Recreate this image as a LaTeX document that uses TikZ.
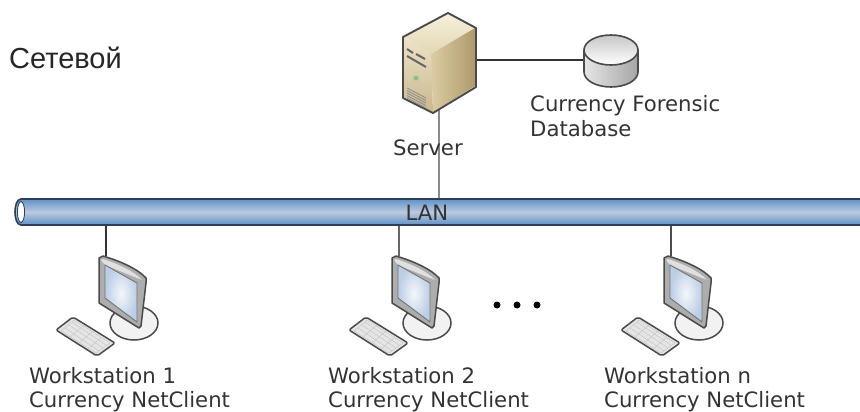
\documentclass[tikz,border=0pt]{standalone}
\usepackage{fontspec}
\setmainfont{DejaVu Sans}
\newfontfamily\arialfont{Liberation Sans}
\usetikzlibrary{calc}
\definecolor{txt}{HTML}{333333}
\definecolor{edgeDark}{HTML}{2A2A2A}
\definecolor{tubeA}{HTML}{5F92C8}
\definecolor{tubeB}{HTML}{BCC9DE}
\definecolor{tubeEdge}{HTML}{2B3F55}
\definecolor{srvTopA}{HTML}{F6F0DC}
\definecolor{srvTopB}{HTML}{E2D6B4}
\definecolor{srvFrontA}{HTML}{EDE3C8}
\definecolor{srvFrontB}{HTML}{C9B78E}
\definecolor{srvSideA}{HTML}{DCCCA4}
\definecolor{srvSideB}{HTML}{AE9A6C}
\definecolor{screenA}{HTML}{F4F7FB}
\definecolor{screenB}{HTML}{BCCDE6}
\tikzset{
  x=1pt,y=-1pt,
  lbl/.style={font=\fontsize{21.2}{24.5}\selectfont,text=txt,inner sep=0pt,align=left,anchor=west},
  link/.style={draw=black!80,line width=1.2pt},
  glink/.style={draw=black!45,line width=1.6pt},
  outl/.style={draw=edgeDark!85,line width=1.5pt,line join=round},
  pics/workstation/.style={code={
    % base
    \draw[outl,fill=black!5] (28,67) ellipse [x radius=24,y radius=17];
    % monitor
    \draw[outl,fill=black!32] (-7,2) -- (-3,0) .. controls (14,5) and (32,13) .. (40,22)
      -- (40,27) -- (35,70) -- (33,72) -- (-7,47) -- cycle;
    \fill[black!12] (-5,4) -- (-3,3) .. controls (12,8) and (28,15) .. (36,24) -- (-1,9) -- cycle;
    \shade[outer color=screenB,inner color=screenA] (-1,9) -- (31,27) -- (31,66) -- (-1,42) -- cycle;
    \draw[black!55,line width=.9pt] (-1,9) -- (31,27) -- (31,66) -- (-1,42) -- cycle;
    % keyboard
    \draw[outl,fill=black!10,rounded corners=2pt] (-50,74) -- (-33,61) -- (9,87) -- (-9,100) -- cycle;
    \begin{scope}[black!22,line width=.5pt]
      \draw (-45,75) -- (-32,64) -- (4,87) -- (-10,97) -- cycle;
      \draw (-41,72) -- (-7,95) (-37,69) -- (-3,92) (-34,66) -- (0,89);
      \draw (-36,81) -- (-22,69) (-27,87) -- (-13,75) (-18,93) -- (-4,81);
    \end{scope}
  }},
}
\begin{document}
\begin{tikzpicture}
\useasboundingbox (0,0) rectangle (860,412);
\fill[white] (0,0) rectangle (860,412);

\node[lbl,font=\arialfont\fontsize{29}{34}\selectfont,text=black!85] (title) at (9,58) {Сетевой};

% named anchors
\coordinate (srvR) at (476,60);
\coordinate (srvB) at (439,110);
\coordinate (dbL) at (584,60);
\coordinate (lanT) at (439,198);
\coordinate (lanB1) at (106,226);
\coordinate (lanB2) at (399,226);
\coordinate (lanB3) at (671,226);
\coordinate (ws1) at (106,256);
\coordinate (ws2) at (399,256);
\coordinate (ws3) at (671,256);

% connectors
\draw[glink] (srvB) -- (lanT);
\draw[link] (srvR) -- (dbL);
\draw[link] (lanB1) -- (ws1);
\draw[link,draw=black!60] (lanB2) -- (ws2);
\draw[link,draw=black!70] (lanB3) -- (ws3);

% server
\shade[top color=srvTopA,bottom color=srvTopB] (448,14) -- (404,37) -- (431,54) -- (475,28) -- cycle;
\shade[left color=srvSideA,right color=srvSideB] (431,54) -- (475,28) -- (475,86) -- (433,112) -- cycle;
\shade[top color=srvFrontA,bottom color=srvFrontB] (404,37) -- (431,54) -- (433,112) -- (404,97) -- cycle;
\draw[outl,line width=1.9pt] (448,13) -- (403,37) -- (403,98) -- (433,113) -- (476,87) -- (476,28) -- cycle;
\draw[black!60,line width=2pt] (407,49) -- (413,53) (416,54) -- (425,59);
\draw[black!60,line width=2pt] (407,56) -- (426,67);
\fill[green!45!black!45!white] (416,78) circle (2.6);
\foreach \d in {0,2.6,5,7.6,10}{
  \draw[black!45,line width=.8pt] (407,88+\d) -- (426,98+\d);
}

% database
\shade[left color=black!10,right color=black!35] (584,50) -- (584,72) arc [start angle=180,end angle=0,x radius=27,y radius=15] -- (638,50) -- cycle;
\shade[top color=black!22,bottom color=white] (611,50) ellipse [x radius=27,y radius=15];
\draw[outl,line width=1.6pt] (611,50) ellipse [x radius=27,y radius=15];
\draw[outl,line width=1.6pt] (584,50) -- (584,72) arc [start angle=180,end angle=0,x radius=27,y radius=15] -- (638,50);

% LAN tube
\shade[top color=tubeA,bottom color=tubeA,middle color=tubeB] (21,199) -- (860,199) -- (860,225) -- (21,225) .. controls (13,225) and (13,199) .. (21,199) -- cycle;
\draw[draw=tubeEdge,line width=1.6pt] (860,199) -- (21,199) .. controls (13,199) and (13,225) .. (21,225) -- (860,225);
\fill[white] (21,212) ellipse [x radius=3.2,y radius=10];
\draw[tubeEdge,line width=.8pt] (21,212) ellipse [x radius=3.6,y radius=10.5];

% labels
\node[lbl] (srvL) at (393,148) {Server};
\node[lbl] (dbT) at (530,116) {Currency Forensic\\Database};
\node[lbl,anchor=center] (lanL) at (427,213) {LAN};

% workstations
\pic at (ws1) {workstation};
\pic at (ws2) {workstation};
\pic at (ws3) {workstation};
\node[lbl] (w1) at (29,389.5) {Workstation 1\\Currency NetClient};
\node[lbl] (w2) at (328,389.5) {Workstation 2\\Currency NetClient};
\node[lbl] (w3) at (604,389.5) {Workstation n\\Currency NetClient};

% dots
\foreach \x/\n in {497/a,517/b,537/c}{
  \node[fill=black,circle,inner sep=0pt,minimum size=7pt] (dot\n) at (\x,305) {};
}
\end{tikzpicture}
\end{document}
